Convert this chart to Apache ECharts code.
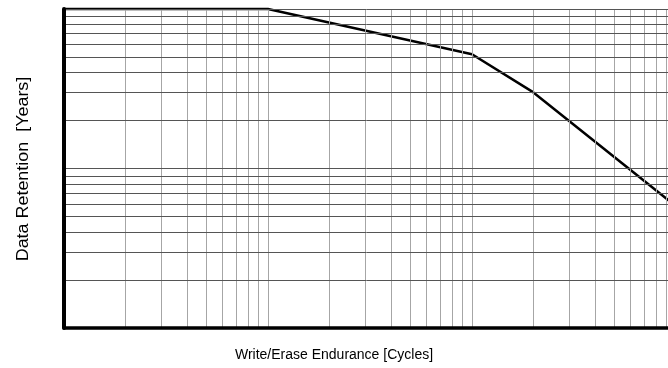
<!DOCTYPE html>
<html>
<head>
<meta charset="utf-8">
<script src="https://cdn.jsdelivr.net/npm/echarts@6/dist/echarts.min.js"></script>
<style>
  html, body { margin: 0; padding: 0; background: #fff; }
  #chart { width: 668px; height: 368px; }
</style>
</head>
<body>
<div id="chart"></div>
<script>
// curve: retention vs endurance (log-log)
const endurance = [1000, 10000, 100000, 200000, 1000000];
const retention = [100, 100, 52, 30, 5.8];

// grid lines (log paper)
const xGrid = [2000, 3000, 4000, 5000, 6000, 7000, 8000, 9000, 10000,
    20000, 30000, 40000, 50000, 60000, 70000, 80000, 90000, 100000,
    200000, 300000, 400000, 500000, 600000, 700000, 800000, 900000];
const yGrid = [2, 3, 4, 5, 6, 7, 8, 9, 10,
    20, 30, 40, 50, 60, 70, 80, 90, 100];

const chart = echarts.init(document.getElementById('chart'), null, { renderer: 'canvas' });

function gridLines(key, vals, color) {
    return {
        type: 'line',
        data: [],
        silent: true,
        z: 1,
        markLine: {
            silent: true,
            symbol: ['none', 'none'],
            animation: false,
            label: { show: false },
            lineStyle: { color: color, width: 1, type: 'solid' },
            data: vals.map(v => ({ [key]: v }))
        }
    };
}

const option = {
    animation: false,
    // plot runs past the right edge of the picture (cut off)
    grid: { left: 64, top: 9, width: 612, height: 319, outerBoundsMode: 'none', containLabel: false },
    graphic: [{
        type: 'text',
        x: 23.5,
        y: 169,
        rotation: Math.PI / 2,
        scaleX: 1.12,
        style: {
            text: 'Data Retention  [Years]',
            font: '16px "Liberation Sans"',
            fill: '#000',
            align: 'center',
            verticalAlign: 'middle'
        }
    }],
    xAxis: {
        type: 'log',
        logBase: 10,
        min: 1000,
        max: 1000000,
        name: 'Write/Erase Endurance [Cycles]',
        nameLocation: 'middle',
        nameGap: 20,
        nameTextStyle: { fontFamily: 'Liberation Sans', fontSize: 14, color: '#000', padding: [0, 72, 0, 0] },
        axisLine: { show: true, lineStyle: { color: '#000', width: 3.5 } },
        axisTick: { show: false },
        axisLabel: { show: false },
        splitLine: { show: false },
        z: 5
    },
    yAxis: {
        type: 'log',
        logBase: 10,
        min: 1,
        max: 100,
        axisLine: { show: true, lineStyle: { color: '#000', width: 4 } },
        axisTick: { show: false },
        axisLabel: { show: false },
        splitLine: { show: false },
        z: 5
    },
    series: [
        gridLines('xAxis', xGrid, '#a6a6a6'),
        gridLines('yAxis', yGrid, '#555'),
        {
            type: 'line',
            data: endurance.map((x, i) => [x, retention[i]]),
            symbol: 'none',
            clip: false,
            z: 4,
            lineStyle: { color: '#000', width: 2.5 }
        }
    ]
};

chart.setOption(option);
</script>
</body>
</html>
